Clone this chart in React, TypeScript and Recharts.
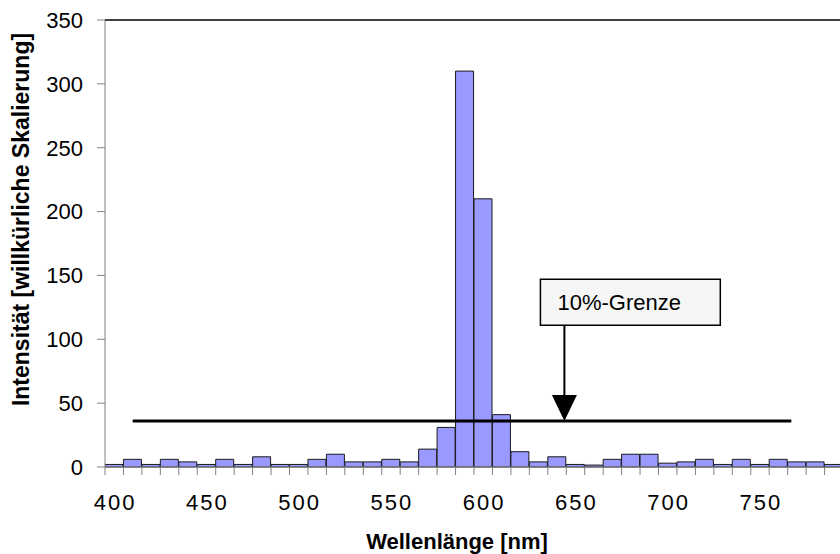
import React from 'react';
import {
  BarChart, Bar, XAxis, YAxis, ReferenceLine, ReferenceArea, ReferenceDot,
} from 'recharts';

const wavelengths = [
  400, 410, 420, 430, 440, 450, 460, 470, 480, 490,
  500, 510, 520, 530, 540, 550, 560, 570, 580, 590,
  600, 610, 620, 630, 640, 650, 660, 670, 680, 690,
  700, 710, 720, 730, 740, 750, 760, 770, 780, 790,
];
const intensity = [
  2, 6, 2, 6, 4, 2, 6, 2, 8, 2,
  2, 6, 10, 4, 4, 6, 4, 14, 31, 310,
  210, 41, 12, 4, 8, 2, 1.5, 6, 10, 10,
  3, 4, 6, 2, 6, 2, 6, 4, 4, 2,
];
const yTicks = [0, 50, 100, 150, 200, 250, 300, 350];

// 10%-Grenze annotation (data coords: nm / intensity)
const limitLevel = 36;
const limitFrom = 410;
const limitTo = 767;
const arrowAt = 644;
const boxX = [631, 728.5];
const boxY = [111, 147];

const data = wavelengths.map((wl, i) => ({ wl, val: intensity[i] }));

const FONT = '"Liberation Sans", Arial, sans-serif';
const CHART_W = 845;
const CHART_H = 554;
const LEFT = 105;
const RIGHT = 2;
const BAND = (CHART_W - LEFT - RIGHT) / wavelengths.length;

const XTick = (props: any) => {
  const { x, y, payload } = props;
  const bx = x - BAND / 2;
  return (
    <g>
      <line x1={bx} x2={bx} y1={y} y2={y + 8} stroke="#808080" />
      {payload.value % 50 === 0 && (
        <text x={x + 1} y={y + 43} textAnchor="middle" fontSize={22} letterSpacing={2}
          fontFamily={FONT} fill="#000">
          {payload.value}
        </text>
      )}
    </g>
  );
};

const YTitle = (props: any) => {
  const vb = props.viewBox;
  const cx = vb.x + 29;
  const cy = vb.y + vb.height / 2 - 24;
  return (
    <text x={cx} y={cy} transform={`rotate(-90 ${cx} ${cy})`} textAnchor="middle"
      fontSize={23} fontWeight="bold" fontFamily={FONT} fill="#000">
      Intensität [willkürliche Skalierung]
    </text>
  );
};

const Arrowhead = (props: any) => {
  const { cx, cy } = props;
  return <polygon points={`${cx},${cy} ${cx - 12.5},${cy - 26} ${cx + 12.5},${cy - 26}`} fill="#000" />;
};

export default function App() {
  return (
    <div style={{ position: 'fixed', left: 0, top: 0, width: 840, height: 554, overflow: 'hidden', background: '#fff' }}>
      <BarChart width={CHART_W} height={CHART_H} data={data} barCategoryGap={0}
        margin={{ top: 20, right: RIGHT, bottom: 0, left: 0 }}>
        <XAxis dataKey="wl" type="number" domain={[395, 795]} ticks={wavelengths} interval={0}
          allowDataOverflow tickLine={false} tickSize={0} tickMargin={0}
          axisLine={{ stroke: '#808080' }} tick={<XTick />} height={87}
          label={{ value: 'Wellenlänge [nm]', position: 'insideBottom', offset: 5, dx: -17,
            fontSize: 22, fontWeight: 'bold', fontFamily: FONT, fill: '#000' }} />
        <YAxis domain={[0, 350]} ticks={yTicks} width={LEFT} tickSize={8}
          axisLine={{ stroke: '#808080' }} tickLine={{ stroke: '#808080' }}
          tick={{ fontSize: 22, fontFamily: FONT, fill: '#000', dx: -12 }}
          label={{ content: <YTitle /> }} />
        <ReferenceLine y={350} stroke="#000" strokeWidth={1.5} />
        <Bar dataKey="val" fill="#9999ff" stroke="#1a1a1a" strokeWidth={1} isAnimationActive={false} />
        <ReferenceLine segment={[{ x: limitFrom, y: limitLevel }, { x: limitTo, y: limitLevel }]}
          stroke="#000" strokeWidth={3} />
        <ReferenceLine segment={[{ x: arrowAt, y: boxY[0] }, { x: arrowAt, y: limitLevel + 15 }]}
          stroke="#000" strokeWidth={2} />
        <ReferenceDot x={arrowAt} y={limitLevel} r={0} shape={<Arrowhead />} />
        <ReferenceArea x1={boxX[0]} x2={boxX[1]} y1={boxY[0]} y2={boxY[1]}
          fill="#f6f6f6" fillOpacity={1} stroke="#000" strokeWidth={1.5}
          label={{ value: '10%-Grenze', position: 'insideLeft', offset: 17,
            fontSize: 22, fontFamily: FONT, fill: '#000' }} />
      </BarChart>
    </div>
  );
}
